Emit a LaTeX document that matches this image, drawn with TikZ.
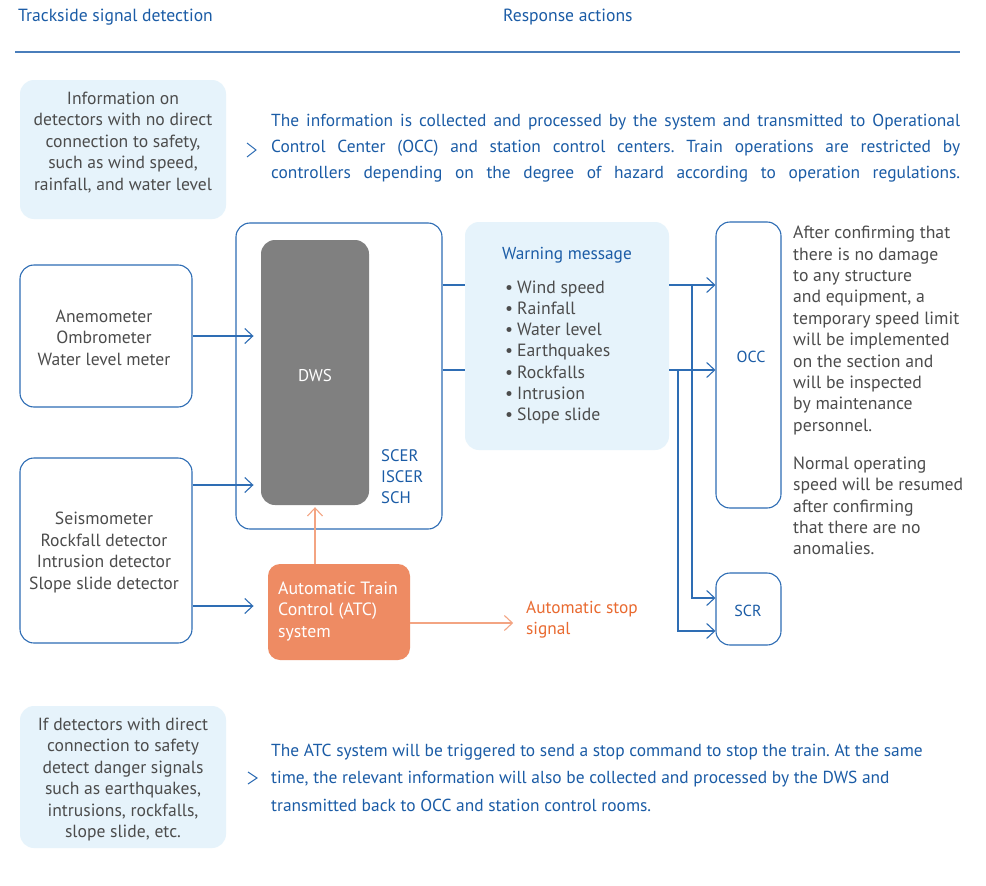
\documentclass[tikz,border=0pt]{standalone}
\usepackage{fontspec}
\setmainfont{PT Sans}
\usetikzlibrary{arrows.meta}
\definecolor{hblue}{HTML}{1B5CA6}
\definecolor{bord}{HTML}{2E6DB4}
\definecolor{hline}{HTML}{4A7EBB}
\definecolor{lblue}{HTML}{E6F3FB}
\definecolor{gtext}{HTML}{4C4C4C}
\definecolor{dgrey}{HTML}{808080}
\definecolor{ofill}{HTML}{EE8B63}
\definecolor{otext}{HTML}{E96A30}
\definecolor{oline}{HTML}{F3A482}
\frenchspacing
\tikzset{
  tdown/.style={yshift=-1.5pt},
  box/.style={draw=bord, line width=1.1pt, rounded corners=14pt, fill=white, inner sep=0pt},
  infobox/.style={fill=lblue, rounded corners=14pt, inner sep=0pt},
  gtxt/.style={tdown, text=gtext, font=\fontsize{17.6}{21.5}\selectfont, align=center, inner sep=0pt},
  btxt/.style={tdown, text=hblue, font=\fontsize{17.4}{26}\selectfont, inner sep=0pt, anchor=west},
  rtxt/.style={tdown, text=gtext, font=\fontsize{17.7}{21.4}\selectfont, align=left, inner sep=0pt, anchor=west},
  arr/.style={draw=bord, line width=1.1pt, -{Straight Barb[length=8pt,width=15pt,line width=1.1pt]}},
  oarr/.style={draw=oline, line width=1.1pt, -{Straight Barb[length=8pt,width=15pt,line width=1.1pt]}},
  conn/.style={draw=bord, line width=1.1pt},
  chev/.style={draw=bord, line width=1pt},
}
\begin{document}
\begin{tikzpicture}[x=1pt,y=-1pt]
\useasboundingbox[fill=white] (0,0) rectangle (986,886);

% header
\node[tdown, text=hblue, font=\fontsize{17.6}{20}\selectfont, anchor=west, inner sep=0pt] (h1) at (18,16) {Trackside signal detection};
\node[tdown, text=hblue, font=\fontsize{17.6}{20}\selectfont, anchor=west, inner sep=0pt] (h2) at (503,16) {Response actions};
\draw[hline, line width=2pt] (15,52) -- (960,52);

% top info
\node[infobox, minimum width=206pt, minimum height=139pt] (info1) at (123,149.5) {};
\node[gtxt] (info1t) at (123,141) {Information on\\detectors with no direct\\connection to safety,\\such as wind speed,\\rainfall, and water level};
\coordinate (c1) at (247,143);
\draw[chev] (c1) -- ++(9,7) -- ++(-9,7);
\node[btxt] (p1) at (271,121) {\makebox[689pt][s]{The information is collected and processed by the system and transmitted to Operational}};
\node[btxt] (p2) at (271,147) {\makebox[689pt][s]{Control Center (OCC) and station control centers. Train operations are restricted by}};
\node[btxt] (p3) at (271,173) {\makebox[689pt][s]{controllers depending on the degree of hazard according to operation regulations.}};

% detectors
\node[box, minimum width=172pt, minimum height=142pt] (anemo) at (106,336) {};
\node[gtxt] (anemot) at (104,336) {Anemometer\\Ombrometer\\Water level meter};
\node[box, minimum width=172pt, minimum height=185pt] (seismo) at (106,550.5) {};
\node[gtxt] (seismot) at (104,551) {Seismometer\\Rockfall detector\\Intrusion detector\\Slope slide detector};

% DWS
\node[box, minimum width=206pt, minimum height=306pt] (outer) at (339,376) {};
\node[fill=dgrey, rounded corners=14pt, minimum width=108pt, minimum height=265pt, inner sep=0pt] (dws) at (315,372.5) {};
\node[tdown, text=white, font=\fontsize{17}{20}\selectfont, inner sep=0pt] (dwst) at (315,374) {DWS};
\node[tdown, text=hblue, font=\fontsize{16.7}{21}\selectfont, align=left, inner sep=0pt, anchor=west] (scer) at (381,475) {SCER\\ISCER\\SCH};

% ATC
\node[fill=ofill, rounded corners=12pt, minimum width=142pt, minimum height=96pt, inner sep=0pt] (atc) at (339,612) {};
\node[tdown, text=white, font=\fontsize{17.8}{21.5}\selectfont, align=left, inner sep=0pt, anchor=west] (atct) at (278,609.5) {Automatic Train\\Control (ATC)\\system};
\node[tdown, text=otext, font=\fontsize{17.3}{21}\selectfont, align=left, inner sep=0pt, anchor=west] (stop) at (526,618.5) {Automatic stop\\signal};

% arrows into DWS / ATC
\draw[arr] (anemo.east) -- ++(61,0);
\draw[arr] (seismo.east |- 0,485) -- ++(61,0);
\draw[arr] (seismo.east |- 0,606) -- ++(61,0);
\draw[oarr] (atc.north -| dws.south) -- ([yshift=-2pt]dws.south);
\draw[oarr] (atc.east |- 0,623) -- ++(103,0);

% warning message
\node[infobox, minimum width=204pt, minimum height=228pt] (warn) at (567,336) {};
\node[tdown, text=hblue, font=\fontsize{17.3}{20}\selectfont, anchor=west, inner sep=0pt] (warnt) at (502,254) {Warning message};
\node[rtxt, font=\fontsize{17.7}{21.33}\selectfont] (warnl) at (505,351) {\textbullet\hspace{4pt}Wind speed\\\textbullet\hspace{4pt}Rainfall\\\textbullet\hspace{4pt}Water level\\\textbullet\hspace{4pt}Earthquakes\\\textbullet\hspace{4pt}Rockfalls\\\textbullet\hspace{4pt}Intrusion\\\textbullet\hspace{4pt}Slope slide};
\draw[conn] (outer.east |- 0,285) -- (warn.west |- 0,285);
\draw[conn] (outer.east |- 0,370) -- (warn.west |- 0,370);

% OCC / SCR
\node[box, minimum width=65pt, minimum height=286pt] (occ) at (748.5,365) {};
\node[tdown, text=hblue, font=\fontsize{16}{20}\selectfont, inner sep=0pt] (occt) at (751,355) {OCC};
\node[box, minimum width=65pt, minimum height=72pt] (scr) at (748.5,609) {};
\node[tdown, text=hblue, font=\fontsize{16}{20}\selectfont, inner sep=0pt] (scrt) at (748,609) {SCR};
\draw[arr] (warn.east |- 0,285) -- (occ.west |- 0,285);
\draw[arr] (warn.east |- 0,370) -- (occ.west |- 0,370);
\coordinate (j1) at (692,285);
\coordinate (j2) at (678,370);
\draw[arr] (j1) |- (scr.west |- 0,598);
\draw[arr] (j2) |- (scr.west |- 0,631);

% right notes
\node[rtxt] (note1) at (793,329) {After confirming that\\there is no damage\\to any structure\\and equipment, a\\temporary speed limit\\will be implemented\\on the section and\\will be inspected\\by maintenance\\personnel.};
\node[rtxt] (note2) at (793,504.5) {Normal operating\\speed will be resumed\\after confirming\\that there are no\\anomalies.};

% bottom info
\node[infobox, minimum width=206pt, minimum height=142pt] (info2) at (123,777) {};
\node[gtxt] (info2t) at (123,778) {If detectors with direct\\connection to safety\\detect danger signals\\such as earthquakes,\\intrusions, rockfalls,\\slope slide, etc.};
\coordinate (c2) at (248,772);
\draw[chev] (c2) -- ++(9,6) -- ++(-9,6);
\node[btxt] (q1) at (271,751) {The ATC system will be triggered to send a stop command to stop the train. At the same};
\node[btxt] (q2) at (271,778) {time, the relevant information will also be collected and processed by the DWS and};
\node[btxt] (q3) at (271,804) {transmitted back to OCC and station control rooms.};
\end{tikzpicture}
\end{document}
